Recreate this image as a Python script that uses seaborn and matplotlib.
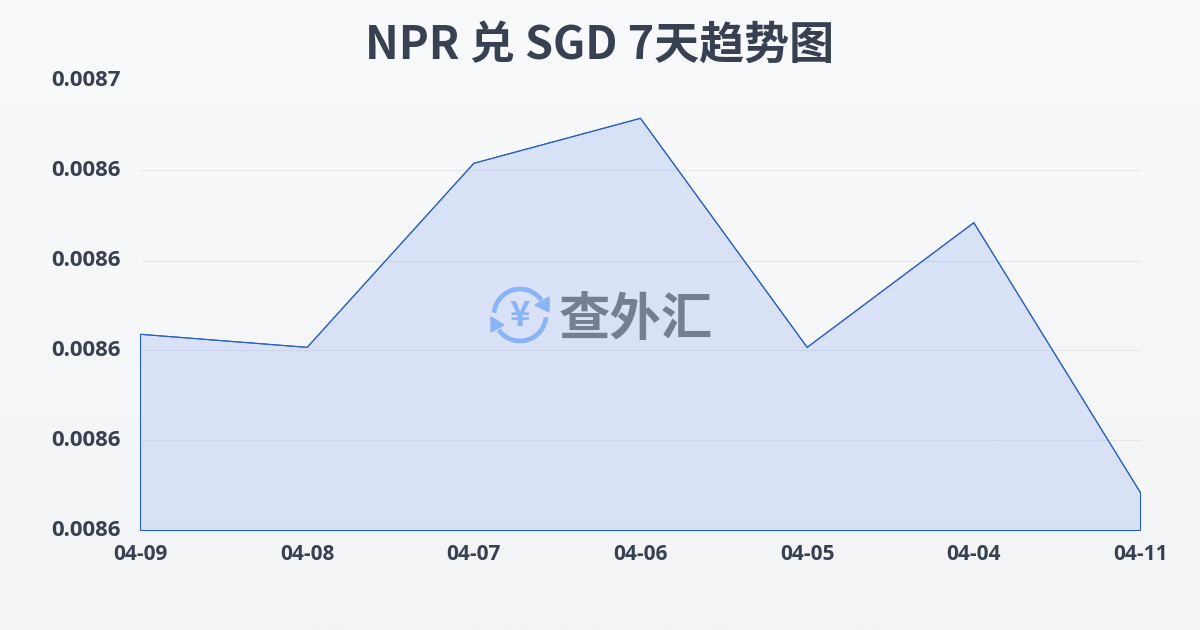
import numpy as np
import pandas as pd
import matplotlib
matplotlib.use("Agg")
import matplotlib.pyplot as plt
from matplotlib.colors import LinearSegmentedColormap
from matplotlib.patches import Arc, Polygon
from matplotlib.transforms import ScaledTranslation
import seaborn as sns

dates = ["04-09", "04-08", "04-07", "04-06", "04-05", "04-04", "04-11"]
rates = [0.0086036, 0.0086007, 0.0086416, 0.0086516, 0.0086007, 0.0086284, 0.0085684]
y_ticks = [0.00856, 0.00858, 0.00860, 0.00862, 0.00864, 0.00866]
title = "NPR 兑 SGD 7天趋势图"

INK = "#374151"
LINE = "#2a5fc7"
LOGO_BLUE = "#8ab4f8"

sns.set_theme(style="white")
plt.rcParams["font.family"] = ["Noto Sans CJK SC", "DejaVu Sans"]

df = pd.DataFrame({"date": dates, "rate": rates})

fig = plt.figure(figsize=(12, 6.3), dpi=100)

# page background, faint vertical gradient
bg = fig.add_axes([0, 0, 1, 1], zorder=0)
bg_cmap = LinearSegmentedColormap.from_list("bg", ["#f9fafc", "#f3f4f6"])
bg.imshow(np.linspace(0, 1, 256).reshape(-1, 1), cmap=bg_cmap, aspect="auto")
bg.axis("off")

ax = fig.add_axes([140.5 / 1200, 1 - 530.5 / 630, 1000 / 1200, 450 / 630], zorder=1)
ax.patch.set_alpha(0)

sns.lineplot(data=df, x="date", y="rate", sort=False, color=LINE, linewidth=0.8, ax=ax, zorder=4)

xpos = np.arange(len(dates))
ax.set_xlim(0, len(dates) - 1)
ax.set_ylim(y_ticks[0], y_ticks[-1])

# area under the line with a gradient, clipped to the polygon
outline = ax.fill_between(xpos, rates, y_ticks[0], facecolor="none", edgecolor=LINE, linewidth=0.8,
                          zorder=3, clip_on=False)
rgba = np.zeros((256, 1, 4))
rgba[..., :3] = matplotlib.colors.to_rgb("#2563eb")
rgba[:, 0, 3] = np.linspace(0.15, 0.13, 256)
grad = ax.imshow(rgba, aspect="auto", zorder=2,
                 extent=[0, len(dates) - 1, y_ticks[0], y_ticks[-1]])
grad.set_clip_path(outline.get_paths()[0], transform=ax.transData)

ax.set_yticks(y_ticks)
ax.set_yticklabels([f"{v:.4f}" for v in y_ticks])
ax.set_xticks(xpos)
ax.set_xticklabels(dates)
ax.set_xlabel("")
ax.set_ylabel("")
ax.grid(axis="y", color="#e5e7eb", linewidth=0.8)
ax.set_axisbelow(True)
sns.despine(ax=ax, left=True, bottom=True, top=True, right=True)
ax.tick_params(axis="y", length=0, pad=14, labelsize=16, labelcolor=INK)
ax.tick_params(axis="x", length=7, width=0.8, color="#e5e7eb", pad=3, labelsize=15, labelcolor=INK)
for lab in ax.get_xticklabels() + ax.get_yticklabels():
    lab.set_fontfamily(["Open Sans", "DejaVu Sans"])
    lab.set_fontweight("bold")
for lab in ax.get_yticklabels():
    lab.set_transform(lab.get_transform() + ScaledTranslation(0, 2 / 72, fig.dpi_scale_trans))

# overlay in pixel coordinates for title and watermark
top = fig.add_axes([0, 0, 1, 1], zorder=5)
top.set_xlim(0, 1200)
top.set_ylim(630, 0)
top.axis("off")
top.patch.set_alpha(0)

top.text(600, 46, title, ha="center", va="center", fontsize=32.4, fontweight="bold", color=INK)

# watermark logo
cx, cy, r = 520, 315, 26
top.add_patch(Arc((cx, cy), 2 * r, 2 * r, theta1=185, theta2=325, color=LOGO_BLUE, lw=3.4))
top.add_patch(Arc((cx, cy), 2 * r, 2 * r, theta1=5, theta2=145, color=LOGO_BLUE, lw=3.4))
top.add_patch(Polygon([(549, 297), (549, 312), (535, 305)], color=LOGO_BLUE))
top.add_patch(Polygon([(491, 317), (491, 332), (504, 325)], color=LOGO_BLUE))
top.text(cx, cy + 1, "¥", ha="center", va="center", fontsize=25, fontweight="bold", color=LOGO_BLUE,
         family=["Noto Sans CJK SC", "DejaVu Sans"])
top.text(636, 319, "查外汇", ha="center", va="center", fontsize=37, fontweight="bold", color="#757f92")

fig.savefig("out.png", dpi=100)
